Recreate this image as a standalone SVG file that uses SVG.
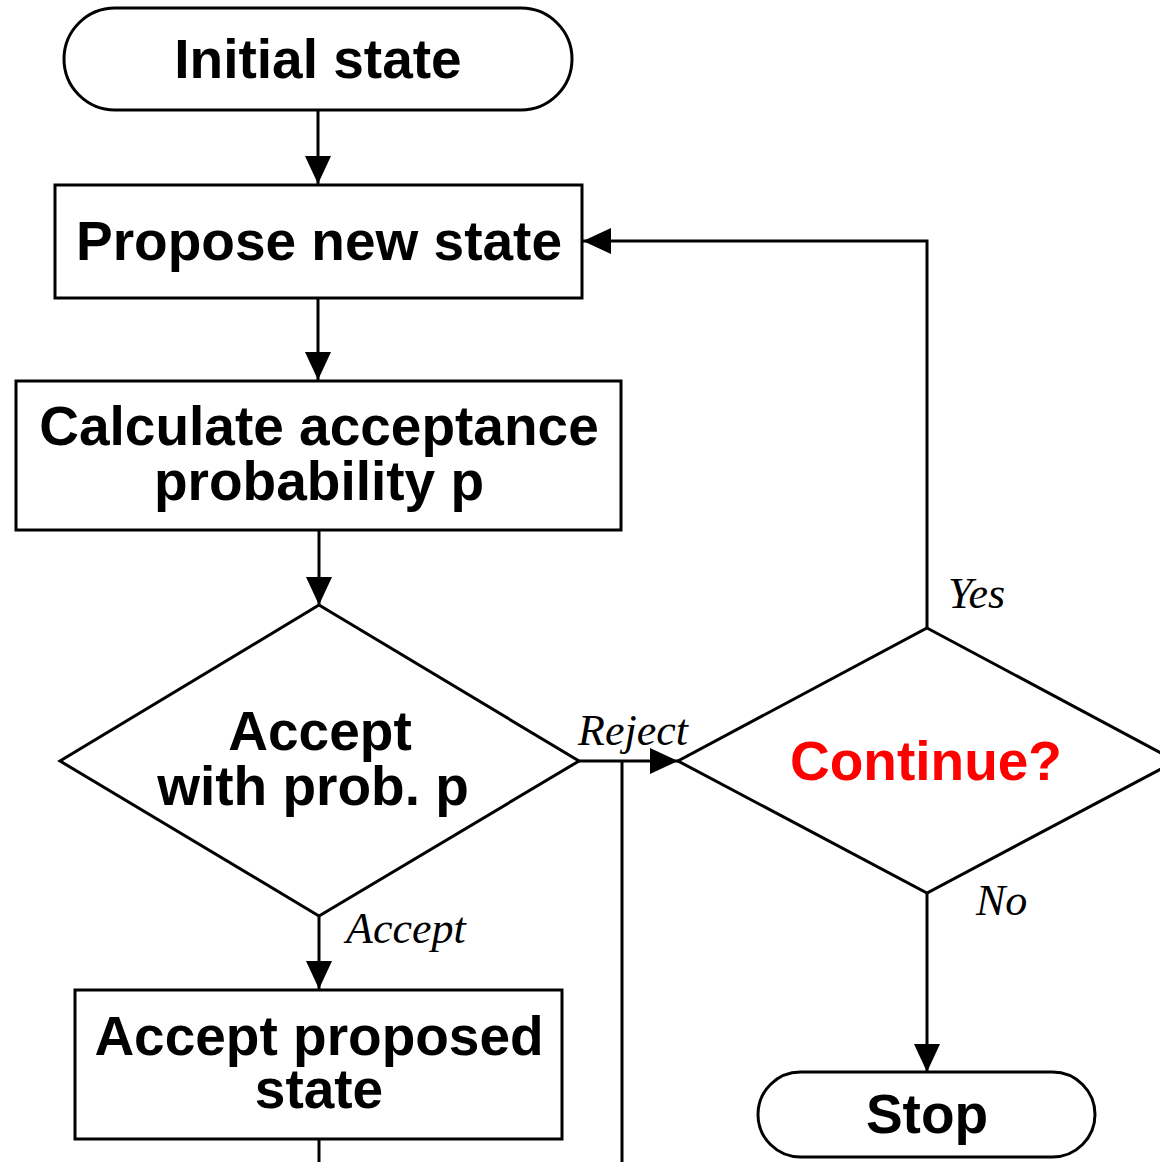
<svg xmlns="http://www.w3.org/2000/svg" width="1160" height="1162" viewBox="0 0 1160 1162">
<defs>
<marker id="arr" markerWidth="28" markerHeight="26" refX="28" refY="13" orient="auto" markerUnits="userSpaceOnUse">
<path d="M0,0 L28,13 L0,26 Z" fill="#000"/>
</marker>
<style>
.shape{fill:#fff;stroke:#000;stroke-width:3}
.t{font-family:"Liberation Sans",Arial,sans-serif;font-weight:bold;font-size:55px;text-anchor:middle;fill:#000}
.lbl{font-family:"Liberation Serif","Times New Roman",serif;font-style:italic;font-size:44px;fill:#000}
.c{fill:none;stroke:#000;stroke-width:3}
</style>
</defs>
<rect width="1160" height="1162" fill="#fff"/>
<g id="connectors">
<path class="c" d="M318,110 V184" marker-end="url(#arr)"/>
<path class="c" d="M318,298 V380" marker-end="url(#arr)"/>
<path class="c" d="M319,530 V605" marker-end="url(#arr)"/>
<path class="c" d="M319,916 V989" marker-end="url(#arr)"/>
<path class="c" d="M579,761 H678" marker-end="url(#arr)"/>
<path class="c" d="M622,761 V1162"/>
<path class="c" d="M927,628 V241 H583" marker-end="url(#arr)"/>
<path class="c" d="M927,893 V1072" marker-end="url(#arr)"/>
<path class="c" d="M319,1139 V1162"/>
<text class="lbl" x="578" y="745">Reject</text>
<text class="lbl" x="948" y="608">Yes</text>
<text class="lbl" x="976" y="915">No</text>
<text class="lbl" x="346" y="943">Accept</text>
</g>
<g id="initial">
<rect class="shape" x="64" y="8" width="508" height="102" rx="51" ry="51"/>
<text class="t" x="318" y="78">Initial state</text>
</g>
<g id="propose">
<rect class="shape" x="55" y="185" width="527" height="113"/>
<text class="t" x="319" y="260">Propose new state</text>
</g>
<g id="calculate">
<rect class="shape" x="16" y="381" width="605" height="149"/>
<text class="t" x="319" y="445">Calculate acceptance</text>
<text class="t" x="319" y="500">probability p</text>
</g>
<g id="acceptDecision">
<polygon class="shape" points="319,605 579,761 319,916 60,761"/>
<text class="t" x="320" y="750">Accept</text>
<text class="t" x="313" y="805">with prob. p</text>
</g>
<g id="continue">
<polygon class="shape" points="927,628 1176,761 927,893 678,761"/>
<text class="t" x="926" y="780" style="fill:#ff0000">Continue?</text>
</g>
<g id="stop">
<rect class="shape" x="758" y="1072" width="337" height="85" rx="42.5" ry="42.5"/>
<text class="t" x="927" y="1133">Stop</text>
</g>
<g id="acceptState">
<rect class="shape" x="75" y="990" width="487" height="149"/>
<text class="t" x="319" y="1055">Accept proposed</text>
<text class="t" x="319" y="1108">state</text>
</g>
</svg>
